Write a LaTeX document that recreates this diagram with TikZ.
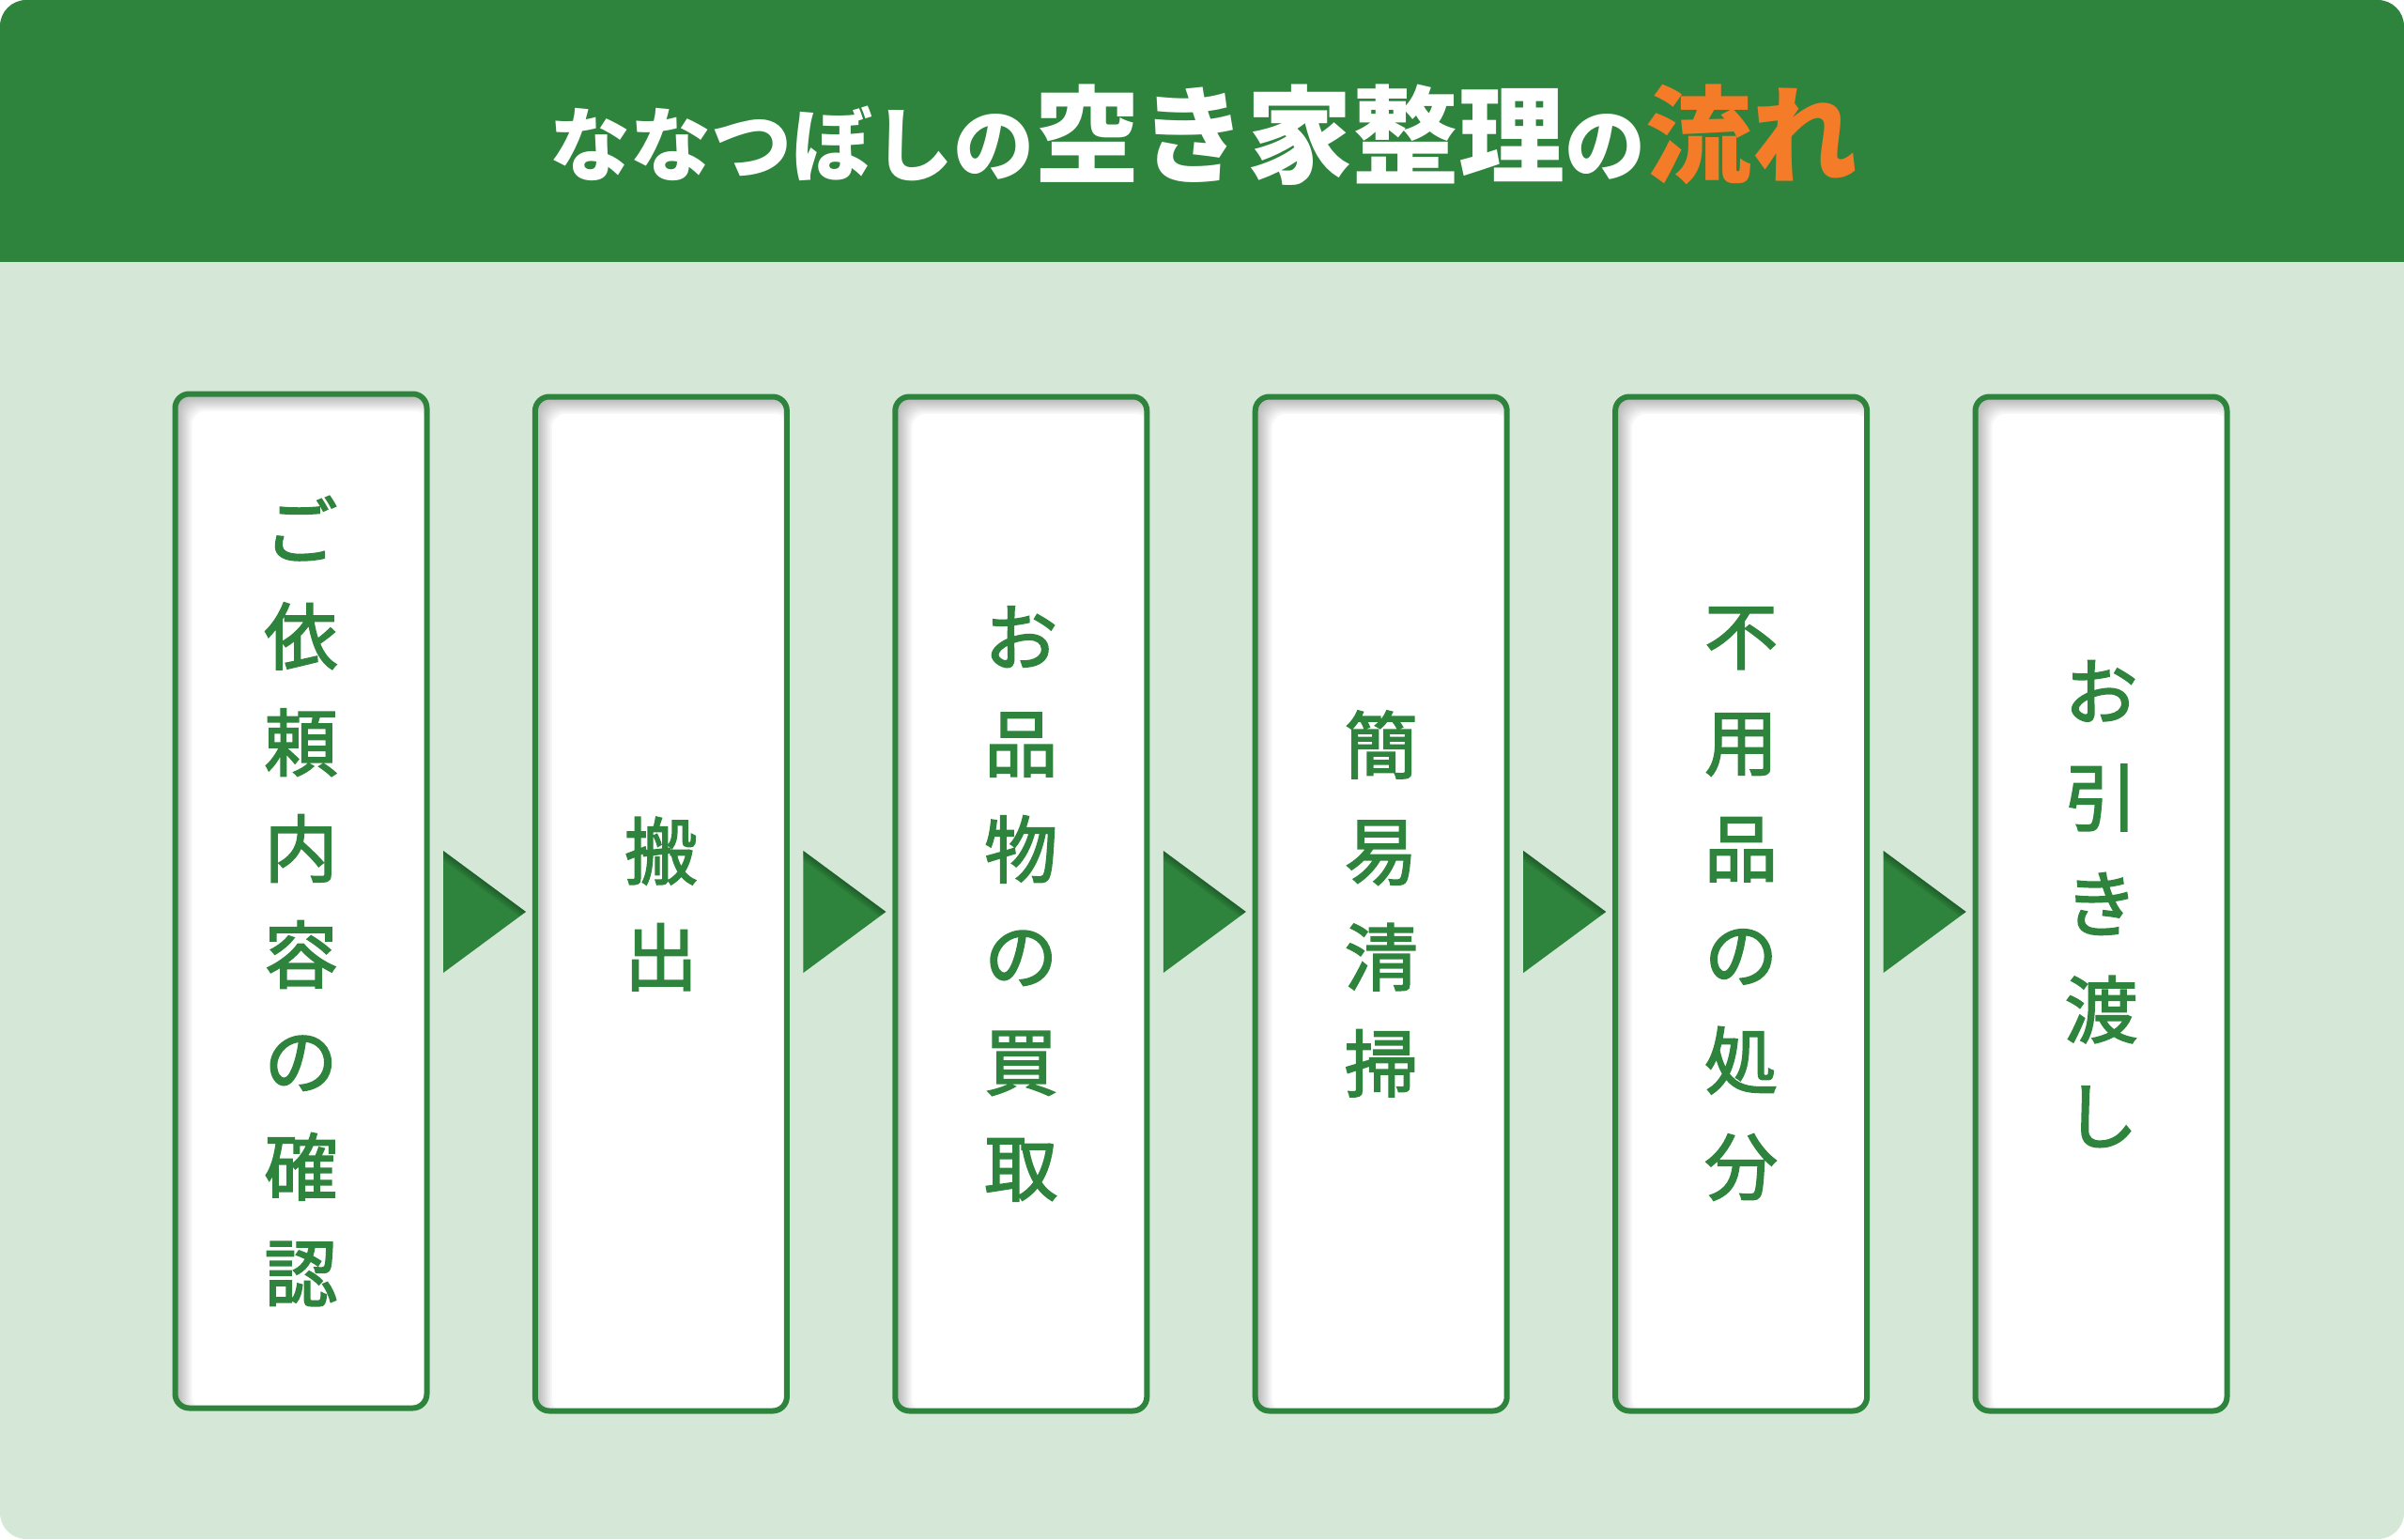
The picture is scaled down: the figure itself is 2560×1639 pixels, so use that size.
\documentclass[tikz,border=0pt]{standalone}
\usepackage{fontspec}
\newfontfamily\jp{Noto Sans CJK JP}
\newfontfamily\jpm{Noto Sans CJK JP}[FakeBold=2.2]
\definecolor{hdrgreen}{HTML}{2E843C}
\definecolor{bggreen}{HTML}{D5E7D7}
\definecolor{accent}{HTML}{F47B28}
\tikzset{
  cardborder/.style={draw=hdrgreen, line width=6pt, rounded corners=15pt},
  cardtext/.style={align=center, text=hdrgreen, inner sep=0pt, font=\jpm\fontsize{78}{113}\selectfont},
  arrowtri/.style={fill=hdrgreen},
}
\begin{document}
\begin{tikzpicture}[x=1pt,y=-1pt]
\useasboundingbox (0,0) rectangle (2560,1639);
\begin{scope}
  \clip[rounded corners=28pt] (0,0) rectangle (2560,1639);
  \fill[bggreen] (0,0) rectangle (2560,1639);
  \fill[hdrgreen] (0,0) rectangle (2560,279);
\end{scope}
\node[anchor=base, text=white, inner sep=0pt, font=\jp\bfseries] (title) at (1282,186) {{\fontsize{86}{86}\selectfont ななつぼしの}{\fontsize{113}{113}\selectfont 空き家整理}{\fontsize{86}{86}\selectfont の}{\fontsize{113}{113}\selectfont\color{accent}流れ}};
\foreach \i/\dy/\txt in {0/-3/{ご\\依\\頼\\内\\容\\の\\確\\認},1/0/{搬\\出},2/0/{お\\品\\物\\の\\買\\取},3/0/{簡\\易\\清\\掃},4/0/{不\\用\\品\\の\\処\\分},5/0/{お\\引\\き\\渡\\し}}{
  \pgfmathsetmacro\xa{186.5+383.4*\i}
  \pgfmathsetmacro\xb{\xa+268}
  \pgfmathsetmacro\ya{422.5+\dy}
  \pgfmathsetmacro\yb{1502.5+\dy}
  \fill[white, rounded corners=15pt] (\xa,\ya) rectangle (\xb,\yb);
  \begin{scope}
    \clip[rounded corners=15pt] (\xa,\ya) rectangle (\xb,\yb);
    \foreach \s in {-8,-6,...,8}{
      \fill[black, opacity=0.035, even odd rule, rounded corners=15pt] (\xa-60,\ya-60) rectangle (\xb+60,\yb+60) (\xa+10+\s,\ya+10+\s) rectangle (\xb+10-\s,\yb+10-\s);
    }
  \end{scope}
  \draw[cardborder] (\xa,\ya) rectangle (\xb,\yb);
  \node[cardtext] (c\i) at ({(\xa+\xb)/2},{(\ya+\yb)/2}) {\txt};
}
\foreach \i in {0,...,4}{
  \pgfmathsetmacro\xl{472+383.4*\i}
  \fill[arrowtri] (\xl,906) -- (\xl+88,971) -- (\xl,1036) -- cycle;
  \begin{scope}
    \clip (\xl,906) -- (\xl+88,971) -- (\xl,1036) -- cycle;
    \foreach \w in {4,8,12,16}{
      \draw[black, opacity=0.07, line width=\w pt] (\xl,906) -- (\xl+88,971);
    }
  \end{scope}
}
\end{tikzpicture}
\end{document}
